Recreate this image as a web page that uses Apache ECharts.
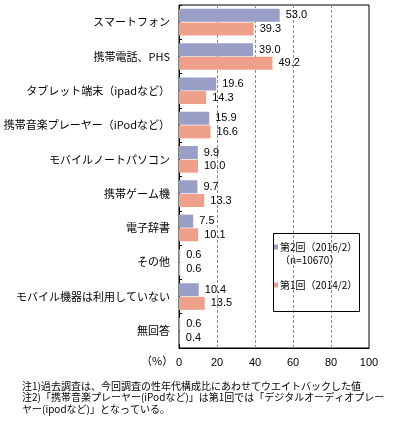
<!DOCTYPE html>
<html>
<head>
<meta charset="utf-8">
<script src="https://cdn.jsdelivr.net/npm/echarts@6/dist/echarts.min.js"></script>
<style>
  html, body { margin: 0; padding: 0; background: #fff; }
  #chart { width: 399px; height: 425px; }
</style>
</head>
<body>
<div id="chart"></div>
<script>
const categories = [
  "スマートフォン",
  "携帯電話、PHS",
  "タブレット端末（ipadなど）",
  "携帯音楽プレーヤー（iPodなど）",
  "モバイルノートパソコン",
  "携帯ゲーム機",
  "電子辞書",
  "その他",
  "モバイル機器は利用していない",
  "無回答"
];
const round2 = [53.0, 39.0, 19.6, 15.9, 9.9, 9.7, 7.5, 0.6, 10.4, 0.6];
const round1 = [39.3, 49.2, 14.3, 16.6, 10.0, 13.3, 10.1, 0.6, 13.5, 0.4];
const seriesNames = ["第2回（2016/2）", "第1回（2014/2）"];
const sampleNote = "（n=10670）";
const axisUnit = "（%）";
const footnotes = [
  "注1)過去調査は、今回調査の性年代構成比にあわせてウエイトバックした値",
  "注2)「携帯音楽プレーヤー(iPodなど)」は第1回では「デジタルオーディオプレー",
  "ヤー(ipodなど)」となっている。"
];

const FONT = "'Noto Sans CJK JP', sans-serif";
const NUM_FONT = "'Liberation Sans', sans-serif";
const colors = ["#9a9fc7", "#efa08a"];

const chart = echarts.init(document.getElementById("chart"));

const barLabel = {
  show: true,
  position: "right",
  distance: 6,
  color: "#000",
  fontSize: 11,
  fontFamily: NUM_FONT,
  formatter: p => p.value.toFixed(1)
};

chart.setOption({
  animation: false,
  textStyle: { fontFamily: FONT },
  grid: {
    left: 179, right: 30, top: 5, bottom: 77,
    show: true, borderColor: "#000", borderWidth: 1
  },
  legend: {
    data: seriesNames,
    orient: "vertical",
    left: 273,
    top: 240,
    padding: 0,
    itemGap: 24,
    itemWidth: 5,
    itemHeight: 5,
    icon: "rect",
    textStyle: { fontSize: 10, color: "#000", fontFamily: FONT, lineHeight: 14, padding: [0, 0, 0, -3] }
  },
  xAxis: {
    type: "value",
    min: 0, max: 100, interval: 20,
    axisLine: { show: true, lineStyle: { color: "#000" } },
    axisTick: { show: false },
    axisLabel: { color: "#000", fontSize: 11, margin: 9, fontFamily: NUM_FONT },
    splitLine: {
      show: true, showMinLine: false, showMaxLine: false,
      lineStyle: { color: "#8c8c8c", type: [3, 2] }
    }
  },
  yAxis: {
    type: "category",
    data: categories,
    inverse: true,
    axisLine: { show: true, lineStyle: { color: "#000" } },
    axisTick: { show: true, inside: true, length: 3, lineStyle: { color: "#000" } },
    axisLabel: { color: "#000", fontSize: 11, margin: 9 }
  },
  series: [
    {
      name: seriesNames[0], type: "bar", data: round2,
      barWidth: 13, barGap: "5%",
      itemStyle: { color: colors[0] },
      label: barLabel
    },
    {
      name: seriesNames[1], type: "bar", data: round1,
      barWidth: 13, barGap: "5%",
      itemStyle: { color: colors[1] },
      label: barLabel
    }
  ],
  graphic: [
    {
      type: "rect", left: 271, top: 231, z: 10,
      shape: { width: 86, height: 78 },
      style: { fill: null, stroke: "#000", lineWidth: 1 }
    },
    {
      type: "text", left: 280, top: 255, z: 11,
      style: { text: sampleNote, font: "10px " + FONT, fill: "#000" }
    },
    {
      type: "text", left: 141, top: 355, z: 11,
      style: { text: axisUnit, font: "11px " + FONT, fill: "#000" }
    },
    {
      type: "text", left: 22, top: 380, z: 11,
      style: { text: footnotes.join("\n"), font: "10px " + FONT, lineHeight: 11.5, fill: "#000" }
    }
  ]
});
</script>
</body>
</html>
